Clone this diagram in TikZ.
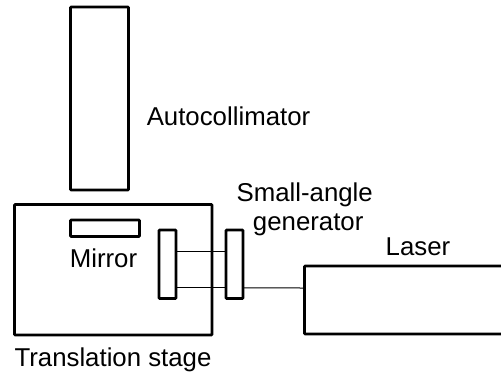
\documentclass[tikz,border=0pt]{standalone}
\usepackage{fontspec}
\setmainfont{Liberation Sans}
\tikzset{
  box/.style={draw=black,line width=2.8pt,rounded corners=0.8pt,inner sep=0pt,outer sep=0pt,anchor=north west},
  beam/.style={draw=black,line width=1pt},
  lab/.style={inner sep=0pt,font=\fontsize{25.8pt}{29.5pt}\selectfont,align=center,text=black}
}
\begin{document}
\begin{tikzpicture}[x=1pt,y=-1pt]
\useasboundingbox (0,0) rectangle (501,375);
\node[box,minimum width=58pt,minimum height=183pt] (auto) at (70.5,7) {};
\node[box,minimum width=197.5pt,minimum height=130.5pt] (stage) at (14.5,204.5) {};
\node[box,minimum width=69pt,minimum height=16.5pt] (mirror) at (70.5,220) {};
\node[box,minimum width=17pt,minimum height=68.5pt] (pa) at (159,230) {};
\node[box,minimum width=17pt,minimum height=68.5pt] (pb) at (226,230) {};
\node[box,minimum width=200pt,minimum height=68pt] (laser) at (304.5,266) {};
\draw[beam] ([yshift=12.5pt]pa.east) -- ([yshift=12.5pt]pb.west);
\draw[beam] ([yshift=-23.7pt]pa.east) -- ([yshift=-23.7pt]pb.west);
\draw[beam] ([yshift=-23.7pt]pb.east) -- ([yshift=12pt]laser.west);
\node[lab] (t1) at (228.5,116.5) {Autocollimator};
\node[lab] (t2) at (103.5,258) {Mirror};
\node[lab] (t3) at (113,360) {Translation stage};
\node[lab] (t4) at (304.7,209.5) {Small-angle\\\hspace{7pt}generator};
\node[lab] (t5) at (418,246.5) {Laser};
\end{tikzpicture}
\end{document}
